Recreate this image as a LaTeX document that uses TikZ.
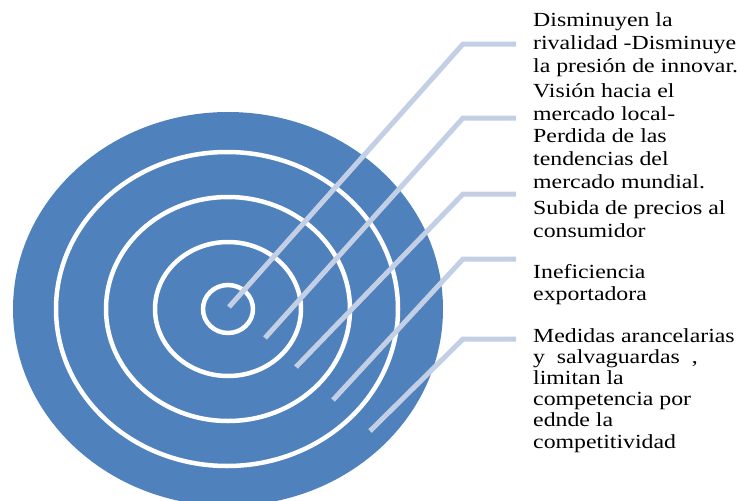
\documentclass[tikz,border=0pt]{standalone}
\usepackage{fontspec}
\setmainfont{Liberation Serif}[FakeStretch=1.19]
\definecolor{ringblue}{HTML}{4F81BD}
\definecolor{leadgray}{HTML}{C3CFE4}
\begin{document}
\begin{tikzpicture}[x=1pt,y=-1pt,
  ring/.style={draw=white,line width=4.5pt},
  lead/.style={draw=leadgray,line width=5pt},
  label/.style={anchor=base west,inner sep=0pt,align=left,
    font=\fontsize{20}{22.6}\selectfont},
  tightlabel/.style={label,font=\fontsize{20}{21.2}\selectfont}]
\useasboundingbox (0,0) rectangle (737,501);
\fill[ringblue] (228,309) ellipse [x radius=215,y radius=197];
\draw[ring] (227,309) ellipse [x radius=171,y radius=157];
\draw[ring] (228,309) ellipse [x radius=122,y radius=112];
\draw[ring] (228,309) ellipse [x radius=73,y radius=67];
\draw[ring] (228,309) ellipse [x radius=25,y radius=24];
% text blocks (anchored at the baseline of their last line)
\node[label] (t1) at (533,72) {Disminuyen la\\rivalidad -Disminuye\\la presión de innovar.};
\node[label] (t2) at (533,188) {Visión hacia el\\mercado local-\\Perdida de las\\tendencias del\\mercado mundial.};
\node[label] (t3) at (533,237) {Subida de precios al\\consumidor};
\node[tightlabel] (t4) at (533,300) {Ineficiencia\\exportadora};
\node[tightlabel] (t5) at (533,448) {Medidas arancelarias\\y \ salvaguardas \ ,\\limitan la\\competencia por\\ednde la\\competitividad};
% connector points
\coordinate (s1) at (229,307); \coordinate (e1) at (463,44);  \coordinate (f1) at (516,44);
\coordinate (s2) at (265,338); \coordinate (e2) at (463,118); \coordinate (f2) at (516,118);
\coordinate (s3) at (296,367); \coordinate (e3) at (463,194); \coordinate (f3) at (516,194);
\coordinate (s4) at (333,400); \coordinate (e4) at (463,259); \coordinate (f4) at (516,259);
\coordinate (s5) at (370,431); \coordinate (e5) at (463,339); \coordinate (f5) at (516,339);
\draw[lead] (s1) -- (e1) -- (f1);
\draw[lead] (s2) -- (e2) -- (f2);
\draw[lead] (s3) -- (e3) -- (f3);
\draw[lead] (s4) -- (e4) -- (f4);
\draw[lead] (s5) -- (e5) -- (f5);
\end{tikzpicture}
\end{document}
